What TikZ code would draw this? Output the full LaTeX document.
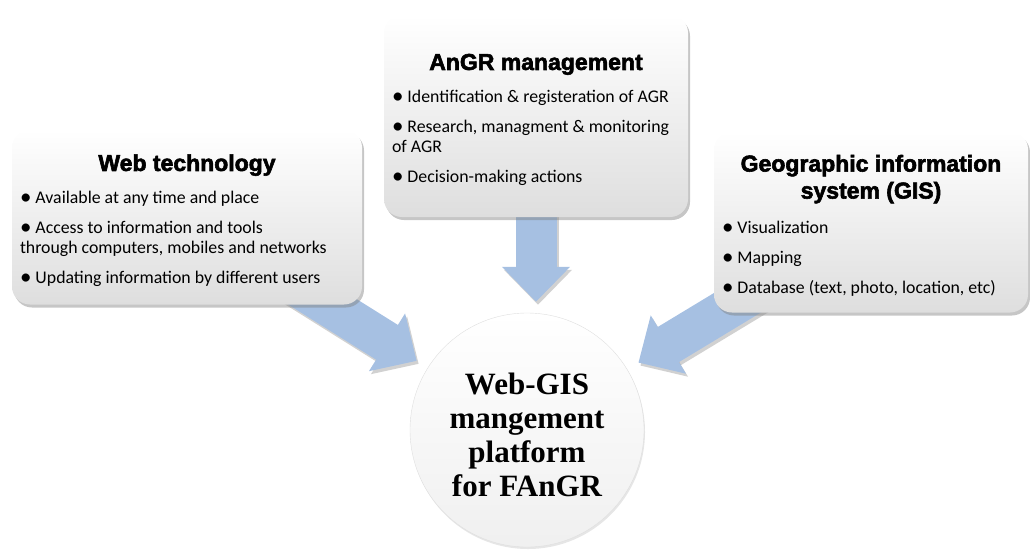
\documentclass[tikz,border=0pt]{standalone}
\usepackage{fontspec}
\setmainfont{Carlito}
\newfontfamily\headfont[BoldFeatures={FakeBold=2.5}]{Liberation Sans}
\newfontfamily\hubfont{Liberation Serif}
\usetikzlibrary{arrows.meta,shadows,backgrounds}

\definecolor{flowblue}{RGB}{166,192,226}
\definecolor{boxgray}{RGB}{222,222,222}

\newcommand{\boxhead}[2][3pt]{{\centering\headfont\bfseries\fontsize{23}{27}\selectfont
  \rule{0pt}{24pt}#2\par\vspace{#1}}}
\newcommand{\dotitem}{\raisebox{-0.6pt}{\fontsize{23}{20}\selectfont\textbullet}\ }

\tikzset{
  infobox/.style={rounded corners=18pt, top color=white, bottom color=boxgray,
    drop shadow={shadow xshift=2pt, shadow yshift=-3pt, opacity=.45},
    inner xsep=8pt, inner ysep=0pt, align=flush left,
    font=\fontsize{17.8}{20}\selectfont,
    execute at begin node=\setlength{\parskip}{10pt}},
  hubnode/.style={circle, minimum size=234pt, inner sep=0pt, draw=gray!25,
    top color=white, bottom color=gray!12,
    drop shadow={shadow xshift=1pt, shadow yshift=-2pt, opacity=.2},
    align=center, font=\hubfont\bfseries\fontsize{31}{34}\selectfont},
  flow/.style={draw=flowblue, line width=41pt,
    -{Triangle[width=66pt,length=35pt]}, shorten >=13pt},
  flowshade/.style={flow, draw=black, opacity=.18,
    transform canvas={shift={(2pt,-3pt)}}}
}

\begin{document}
\begin{tikzpicture}[x=1pt,y=-1pt]
\useasboundingbox (0,0) rectangle (1030,555);

% the three source boxes
\node[infobox, text width=334pt, minimum width=350pt, minimum height=175pt] (web) at (187,217)
  {\boxhead{Web technology}
   \dotitem Available at any time and place\par
   \dotitem Access to information and tools\\through computers, mobiles and networks\par
   \dotitem Updating information by different users};
\node[infobox, text width=288pt, minimum width=304pt, minimum height=202pt] (angr) at (536,116)
  {\boxhead{AnGR management}
   \dotitem Identification \& registeration of AGR\par
   \dotitem Research, managment \& monitoring\\of AGR\par
   \dotitem Decision-making actions};
\node[infobox, text width=298pt, minimum width=314pt, minimum height=181pt] (gis) at (871,222)
  {\boxhead[5pt]{Geographic information\\system (GIS)}
   \dotitem Visualization\par
   \dotitem Mapping\par
   \dotitem Database (text, photo, location, etc)};

% platform
\node[hubnode] (hub) at (527,430) {\rule{0pt}{31pt}Web-GIS\\mangement\\platform\\for FAnGR};

% block arrows
\begin{scope}[on background layer]
\draw[flowshade] (web.center) -- (hub);
\draw[flowshade, shorten >=11pt] (angr.center) -- (angr.center |- hub.north);
\draw[flowshade] (gis.center) -- (hub);
\draw[flow] (web.center) -- (hub);
\draw[flow, shorten >=11pt] (angr.center) -- (angr.center |- hub.north);
\draw[flow] (gis.center) -- (hub);
\end{scope}
\end{tikzpicture}
\end{document}
